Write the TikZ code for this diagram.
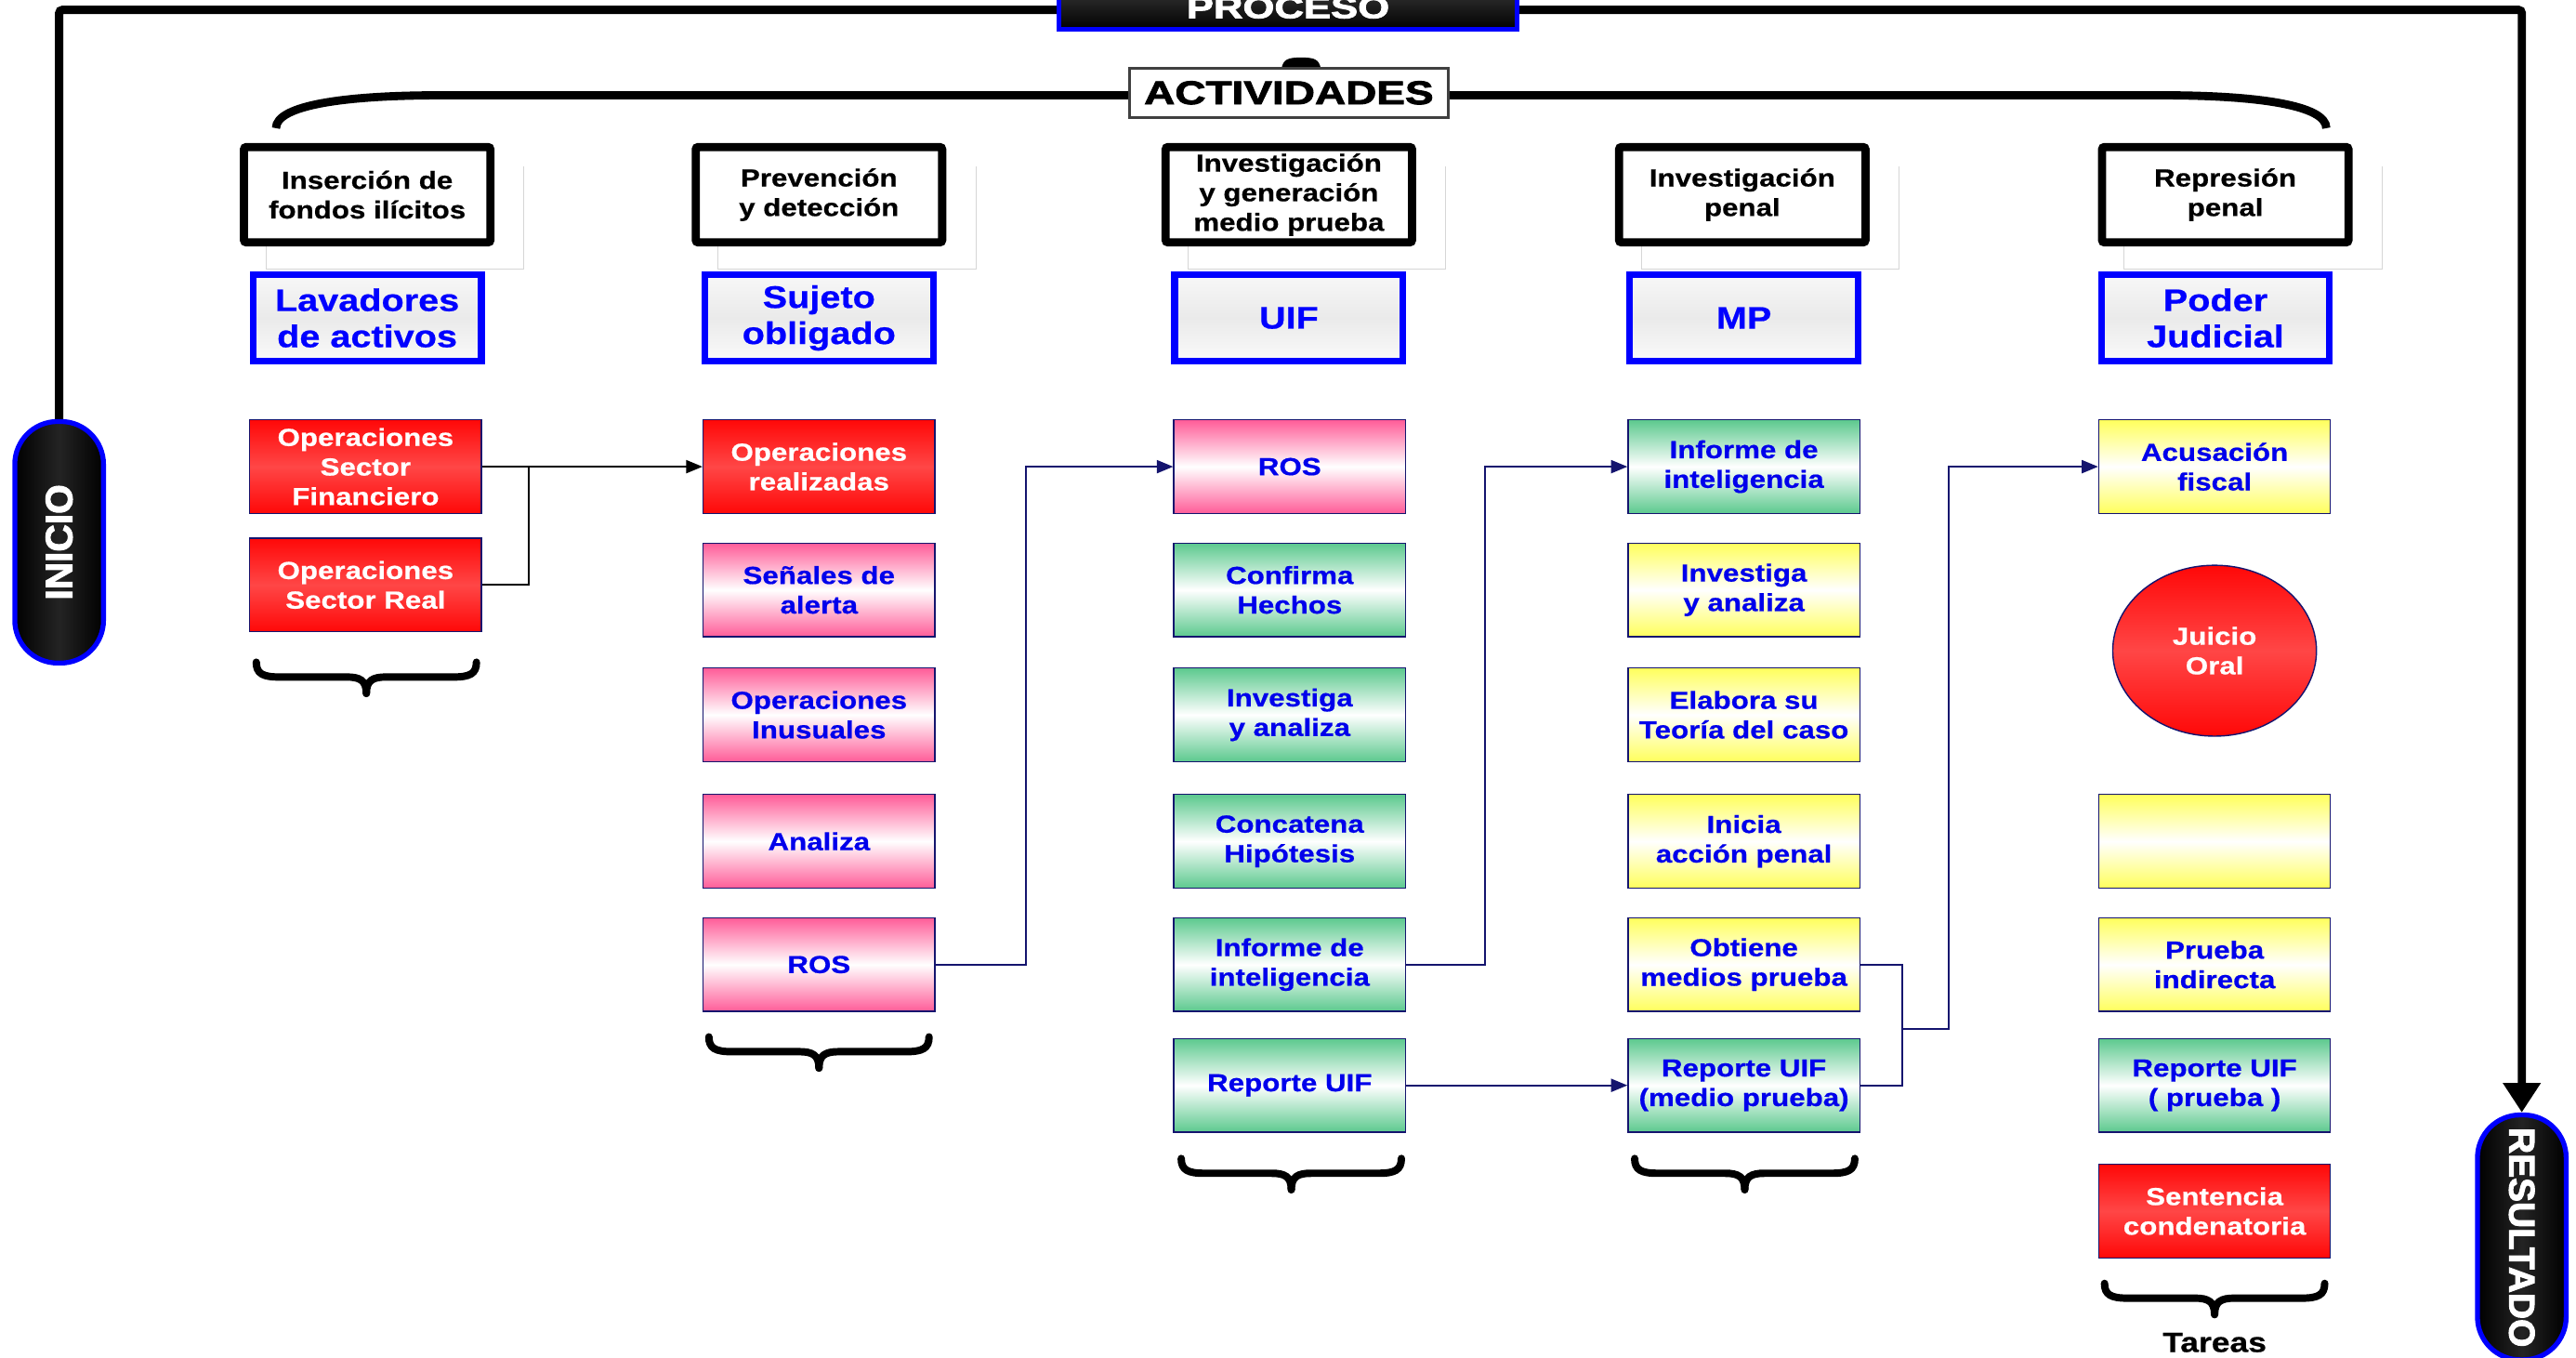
\documentclass[tikz,border=0pt]{standalone}
\usepackage{fontspec}
\usepackage{graphicx}
\setmainfont{Liberation Sans}
\newfontfamily\tfont[FakeStretch=1.18,FakeBold=0.6]{Liberation Sans}
\newfontfamily\negra[FakeStretch=1.3,FakeBold=2.5]{Liberation Sans}
\newfontfamily\cajafont[FakeBold=2.5]{Liberation Sans}
\usetikzlibrary{arrows.meta,shapes.geometric}

\definecolor{azultexto}{RGB}{0,0,235}
\definecolor{marino}{RGB}{20,20,110}
\definecolor{rojo}{RGB}{255,8,8}
\definecolor{rojoclaro}{RGB}{255,70,70}
\definecolor{rosa}{RGB}{255,92,152}
\definecolor{verde}{RGB}{92,201,142}
\definecolor{amarillo}{RGB}{255,255,92}
\definecolor{grisclaro}{RGB}{234,234,234}

\tikzset{every picture/.style={line width=0.75pt}}
\tikzset{
  tarea/.style={draw=marino, line width=0.8pt, minimum width=141pt, minimum height=57pt, inner sep=1pt, align=center, text=azultexto, font=\tfont\bfseries\fontsize{15}{18}\selectfont},
  troja/.style={tarea, top color=rojo, bottom color=rojo, middle color=rojoclaro, text=white},
  trosa/.style={tarea, top color=rosa, bottom color=rosa, middle color=white},
  tverde/.style={tarea, top color=verde, bottom color=verde, middle color=white},
  tamarilla/.style={tarea, top color=amarillo, bottom color=amarillo, middle color=white},
  etapa/.style={draw=black, line width=5pt, rounded corners=1.5pt, fill=white, minimum width=150pt, minimum height=58pt, inner sep=0pt, align=center, font=\tfont\bfseries\fontsize{15}{18}\selectfont},
  actor/.style={draw=blue, line width=4pt, minimum width=139pt, minimum height=53pt, inner sep=0pt, align=center, text=blue, top color=white!97!black, bottom color=white!98!black, middle color=grisclaro, font=\tfont\bfseries\fontsize{19}{22}\selectfont},
  capsula/.style={draw=blue, line width=3pt, rounded corners=26pt, left color=black, right color=black, middle color=black!86, minimum width=54pt, text=white, inner sep=0pt},
  sombra/.style={draw=black!16, line width=0.6pt},
  llave/.style={line width=4.5pt, line cap=round},
  llaveg/.style={line width=5pt},
  marco/.style={line width=5pt, rounded corners=2pt},
  linea/.style={draw=marino, line width=1pt},
  flecha/.style={linea, -{Triangle[length=10pt,width=8pt]}},
}

% brace under a column: centre x, top y, half width
\newcommand{\llave}[3]{%
  \draw[llave] (#1-#3,#2) .. controls (#1-#3,#2+7) and (#1-#3+4,#2+9) .. (#1-#3+14,#2+9) -- (#1-12,#2+9) .. controls (#1-4,#2+9) and (#1,#2+11) .. (#1,#2+19);
  \draw[llave] (#1+#3,#2) .. controls (#1+#3,#2+7) and (#1+#3-4,#2+9) .. (#1+#3-14,#2+9) -- (#1+12,#2+9) .. controls (#1+4,#2+9) and (#1,#2+11) .. (#1,#2+19);
}

\begin{document}
\begin{tikzpicture}[x=1pt,y=1pt,yscale=-1,xscale=1]
\useasboundingbox (0,0) rectangle (1568,826);
\clip (0,0) rectangle (1568,826);

%Shape: shadows behind the stage boxes
\foreach \cx in {223.5,498.5,784.5,1060.5,1354.5}
  \draw[sombra] (\cx-61.5,150) -- (\cx-61.5,164) -- (\cx+95.5,164) -- (\cx+95.5,101);

%Shape: start and end capsules
\node[capsula, minimum height=147pt] (inicio) at (36,330) {\rotatebox{90}{\cajafont\bfseries\fontsize{23}{23}\selectfont INICIO}};
\node[capsula, minimum height=149pt] (resultado) at (1535,753) {\rotatebox{-90}{\cajafont\bfseries\fontsize{22}{22}\selectfont RESULTADO}};

%Straight Lines: outer frame
\draw[marco, -{Triangle[length=18pt,width=22pt]}] (inicio.north) -- (36,6) -- (1535,6) -- (resultado.north);

%Shape: big brace
\draw[llaveg] (168,78) .. controls (168,64) and (210,58) .. (268,58) -- (1316,58) .. controls (1374,58) and (1416,64) .. (1416,78);
\fill (780,42) .. controls (781,36) and (784,35) .. (792,35) .. controls (800,35) and (803,36) .. (804,42) -- cycle;

% Text Node
\node[draw=blue, line width=3pt, top color=black!78, bottom color=black, minimum width=279pt, minimum height=27pt, inner sep=0pt, text=white, font=\negra\bfseries\fontsize{19}{19}\selectfont] (proceso) at (784,4.5) {PROCESO};
% Text Node
\node[draw=black!75, line width=1.5pt, fill=white, minimum width=194pt, minimum height=30pt, inner sep=0pt, font=\negra\bfseries\fontsize{20}{20}\selectfont] (actividades) at (784.5,56.5) {ACTIVIDADES};

% stages
\node[etapa] (h1) at (223.5,118.5) {Inserción de\\fondos ilícitos};
\node[etapa] (h2) at (498.5,118.5) {Prevención\\y detección};
\node[etapa] (h3) at (784.5,118.5) {Investigación\\y generación\\medio prueba};
\node[etapa] (h4) at (1060.5,118.5) {Investigación\\penal};
\node[etapa] (h5) at (1354.5,118.5) {Represión\\penal};

% actors
\node[actor] (a1) at (223.5,193.5) {Lavadores\\de activos};
\node[actor] (a2) at (498.5,193.5) {Sujeto\\obligado};
\node[actor] (a3) at (784.5,193.5) {UIF};
\node[actor] (a4) at (1061.5,193.5) {MP};
\node[actor] (a5) at (1348.5,193.5) {Poder\\Judicial};

% column 1
\node[troja] (osf) at (222.5,284) {Operaciones\\Sector\\Financiero};
\node[troja] (osr) at (222.5,356) {Operaciones\\Sector Real};
% column 2
\node[troja] (opr) at (498.5,284) {Operaciones\\realizadas};
\node[trosa] (sen) at (498.5,359) {Señales de\\alerta};
\node[trosa] (oin) at (498.5,435) {Operaciones\\Inusuales};
\node[trosa] (ana) at (498.5,512) {Analiza};
\node[trosa] (ros2) at (498.5,587) {ROS};
% column 3
\node[trosa] (ros3) at (785,284) {ROS};
\node[tverde] (con) at (785,359) {Confirma\\Hechos};
\node[tverde] (inv3) at (785,435) {Investiga\\y analiza};
\node[tverde] (hip) at (785,512) {Concatena\\Hipótesis};
\node[tverde] (inf3) at (785,587) {Informe de\\inteligencia};
\node[tverde] (rep3) at (785,660.5) {Reporte UIF};
% column 4
\node[tverde] (inf4) at (1061.5,284) {Informe de\\inteligencia};
\node[tamarilla] (inv4) at (1061.5,359) {Investiga\\y analiza};
\node[tamarilla] (teo) at (1061.5,435) {Elabora su\\Teoría del caso};
\node[tamarilla] (ini) at (1061.5,512) {Inicia\\acción penal};
\node[tamarilla] (obt) at (1061.5,587) {Obtiene\\medios prueba};
\node[tverde] (rep4) at (1061.5,660.5) {Reporte UIF\\(medio prueba)};
% column 5
\node[tamarilla] (acu) at (1348,284) {Acusación\\fiscal};
\node[troja, ellipse, minimum width=124pt, minimum height=104pt] (juicio) at (1348,396) {Juicio\\Oral};
\node[tamarilla] (vac) at (1348,512) {};
\node[tamarilla] (pru) at (1348,587) {Prueba\\indirecta};
\node[tverde] (rep5) at (1348,660.5) {Reporte UIF\\( prueba )};
\node[troja] (sent) at (1348,737) {Sentencia\\condenatoria};

% connectors
\coordinate (j1) at (322,284);
\draw[linea, draw=black] (osf.east) -- (j1);
\draw[linea, draw=black] (osr.east) -| (j1);
\draw[flecha, draw=black, fill=black] (j1) -- (opr.west);
\draw[flecha] (ros2.east) -- ++(55,0) |- (ros3.west);
\draw[flecha] (inf3.east) -- ++(48,0) |- (inf4.west);
\draw[flecha] (rep3.east) -- (rep4.west);
\coordinate (j2) at (1158,626);
\draw[linea] (obt.east) -| (j2);
\draw[linea] (rep4.east) -| (j2);
\draw[flecha] (j2) -- ++(28,0) |- (acu.west);

% braces
\llave{223}{403}{67}
\llave{498.5}{631}{67}
\llave{786}{705}{67}
\llave{1062}{705}{67}
\llave{1348}{781}{67}

% Text Node
\node[font=\tfont\bfseries\fontsize{17}{17}\selectfont] (tareas) at (1348,817) {Tareas};

\end{tikzpicture}
\end{document}
